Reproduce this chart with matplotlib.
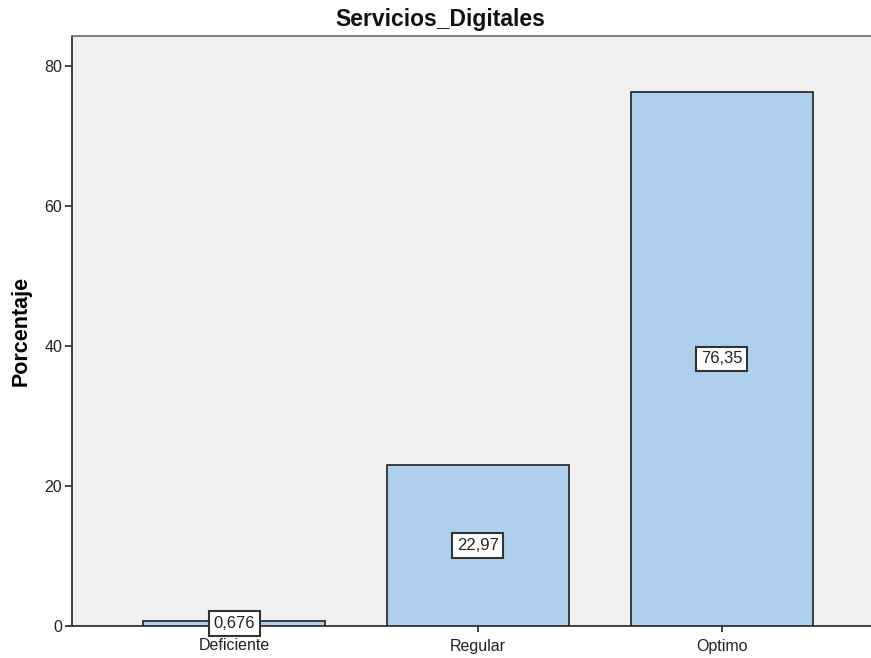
import matplotlib
matplotlib.use("Agg")
import matplotlib.pyplot as plt

categories = ["Deficiente", "Regular", "Optimo"]
values = [0.676, 22.97, 76.35]
labels = ["0,676", "22,97", "76,35"]
yticks = [0, 20, 40, 60, 80]

plt.rcParams['font.family'] = ['Liberation Sans', 'DejaVu Sans']
fig = plt.figure(figsize=(8.71, 6.58), dpi=100)
ax = fig.add_axes([72/871, 32/658, 1 - 72/871 + 0.002, (626-36)/658])
ax.set_facecolor('#f0f0f0')
x = list(range(len(categories)))
ax.bar(x, values, width=0.747, color='#aecfee', edgecolor='#222222', linewidth=1.2, zorder=3)
for xi, v, lab in zip(x, values, labels):
    ax.text(xi, v/2, lab, ha='center', va='center', fontsize=12, color='#222222', zorder=4,
            bbox=dict(boxstyle='square,pad=0.28', facecolor='white', edgecolor='#333333', linewidth=1.5))
ax.set_xlim(-0.665, 2.62)
ax.set_ylim(0, 84.3)
ax.set_yticks(yticks)
ax.set_xticks(x)
ax.set_xticklabels(categories)
ax.tick_params(axis='y', length=5, width=1.2, labelsize=11.5, colors='#222222', pad=2)
ax.tick_params(axis='x', length=4, width=1.2, direction='out', labelsize=11.5, colors='#222222', pad=5)
for s in ['left', 'bottom', 'top']:
    ax.spines[s].set_color('#333333')
    ax.spines[s].set_linewidth(1.3)
ax.spines['top'].set_color('#777777')
ax.spines['right'].set_visible(False)
ax.set_ylabel('Porcentaje', fontsize=15.5, fontweight='bold', labelpad=9)
fig.text(440/871, 1 - 26/658, 'Servicios_Digitales', fontsize=16.5, fontweight='bold',
         ha='center', va='baseline', color='#111111')
fig.savefig('out.png', dpi=100)
